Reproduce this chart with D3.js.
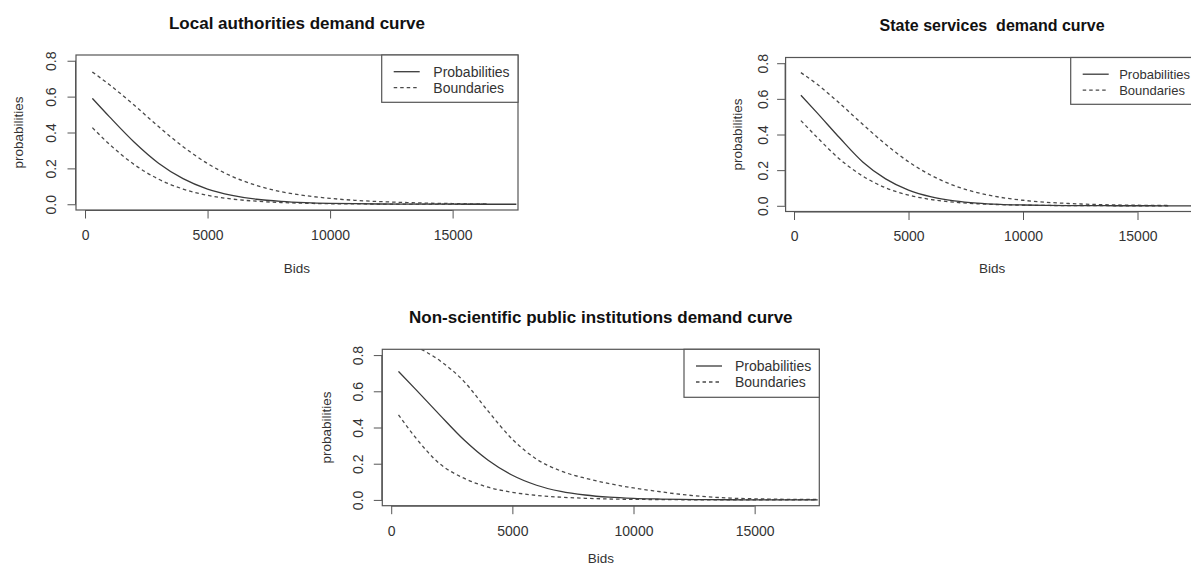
<!DOCTYPE html>
<html>
<head>
<meta charset="utf-8">
<script src="https://cdn.jsdelivr.net/npm/d3@7"></script>
<style>
  html, body { margin: 0; padding: 0; background: #fff; }
  svg { display: block; font-family: "Liberation Sans", Arial, sans-serif; }
</style>
</head>
<body>
<svg id="chart" width="1191" height="570"></svg>
<script>
// ---------------- data ----------------
const titles = ["Local authorities demand curve", "State services  demand curve", "Non-scientific public institutions demand curve"];
const xTicks = [0, 5000, 10000, 15000];
const yTicks = [0, 0.2, 0.4, 0.6, 0.8];
const legendLabels = ["Probabilities", "Boundaries"];
const xLabel = "Bids";
const yLabel = "probabilities";

const bids = [300, 1000, 2000, 3000, 4000, 5000, 6000, 7000, 8000, 9000, 10000, 11000, 12000, 13000, 14000, 15000, 16000, 16400, 17000, 17600];

const localProb  = [0.59, 0.487, 0.347, 0.229, 0.143, 0.085, 0.05, 0.028, 0.016, 0.009, 0.005, 0.003, 0.0015, 0.001, 0.0005, 0.0003, 0.0001, 0.0001, 0, 0];
const localUpper = [0.737, 0.666, 0.553, 0.433, 0.321, 0.227, 0.155, 0.105, 0.07, 0.048, 0.033, 0.022, 0.015, 0.01, 0.006, 0.004, 0.002, 0.002, null, null];
const localLower = [0.427, 0.334, 0.222, 0.14, 0.085, 0.05, 0.029, 0.017, 0.0097, 0.0055, 0.003, 0.002, 0.001, 0.0006, 0.0003, 0.0002, 0.0001, 0.0001, null, null];

const stateProb  = [0.62, 0.523, 0.38, 0.246, 0.151, 0.088, 0.05, 0.028, 0.015, 0.008, 0.0045, 0.0025, 0.0013, 0.0007, 0.0004, 0.0002, 0.0001, 0.0001, 0, 0];
const stateUpper = [0.747, 0.683, 0.574, 0.457, 0.345, 0.247, 0.17, 0.113, 0.074, 0.048, 0.031, 0.02, 0.013, 0.008, 0.005, 0.003, 0.002, 0.002, null, null];
const stateLower = [0.478, 0.385, 0.261, 0.167, 0.101, 0.06, 0.035, 0.02, 0.0115, 0.0065, 0.0037, 0.002, 0.0012, 0.0007, 0.0004, 0.0002, 0.0001, 0.0001, null, null];

const nonsciProb  = [0.71, 0.612, 0.47, 0.332, 0.219, 0.136, 0.081, 0.047, 0.027, 0.015, 0.0085, 0.005, 0.0027, 0.0015, 0.0008, 0.0005, 0.0003, 0.0002, 0.0001, 0.0001];
const nonsciUpper = [0.90, 0.85, 0.77, 0.655, 0.49, 0.335, 0.225, 0.16, 0.12, 0.09, 0.066, 0.047, 0.03, 0.018, 0.01, 0.006, 0.004, 0.003, 0.003, 0.002];
const nonsciLower = [0.47, 0.345, 0.2, 0.12, 0.07, 0.042, 0.025, 0.015, 0.009, 0.005, 0.003, 0.002, 0.001, 0.0006, 0.0003, 0.0002, 0.0001, 0.0001, 0, 0];

const xDomain = [-368, 17668];
const yDomain = [-0.032, 0.832];

// ---------------- layout ----------------
const panels = [
  { title: titles[0], prob: localProb, upper: localUpper, lower: localLower,
    left: 76, right: 518, top: 55, bottom: 210, titleY: 29, titleSize: 17,
    ylabX: -53, ytlX: -20.5, xtlY: 30, xlabY: 62.5, legLeft: 381.7, legBottom: 102.3, legText: 51.6, legSize: 14 },
  { title: titles[1], prob: stateProb, upper: stateUpper, lower: stateLower,
    left: 785.6, right: 1198.6, top: 57.5, bottom: 211.5, titleY: 30.5, titleSize: 16,
    ylabX: -44, ytlX: -18, xtlY: 29.5, xlabY: 61.5, legLeft: 1070.7, legBottom: 104.3, legText: 48.5, legSize: 13 },
  { title: titles[2], prob: nonsciProb, upper: nonsciUpper, lower: nonsciLower,
    left: 382.3, right: 819.3, top: 349.3, bottom: 505.7, titleY: 323, titleSize: 17,
    ylabX: -51, ytlX: -19.5, xtlY: 30, xlabY: 57, legLeft: 684, legBottom: 397.3, legText: 51, legSize: 14 }
];

const svg = d3.select("#chart");
svg.append("rect").attr("width", 1191).attr("height", 570).attr("fill", "#fff");

const lineColor = "#3a3a3a";
const dashColor = "#4a4a4a";
const axisColor = "#555";
const textColor = "#333";
const dash = "3.5,3";

panels.forEach((p, i) => {
  const x = d3.scaleLinear().domain(xDomain).range([p.left, p.right]);
  const y = d3.scaleLinear().domain(yDomain).range([p.bottom, p.top]);
  const g = svg.append("g");

  const clipId = "clip" + i;
  svg.append("clipPath").attr("id", clipId)
    .append("rect").attr("x", p.left).attr("y", p.top)
    .attr("width", p.right - p.left).attr("height", p.bottom - p.top);

  // title
  g.append("text")
    .attr("x", (p.left + p.right) / 2).attr("y", p.titleY)
    .attr("text-anchor", "middle")
    .attr("font-weight", "bold").attr("font-size", p.titleSize)
    .attr("fill", "#111")
    .style("white-space", "pre")
    .text(p.title);

  // x axis
  const xAxis = d3.axisBottom(x).tickValues(xTicks).tickSize(8.5).tickPadding(4).tickFormat(d3.format("d"));
  const xa = g.append("g").attr("transform", `translate(0,${p.bottom})`).call(xAxis);
  xa.select(".domain").attr("d", `M${x(xTicks[0])},0.5H${x(xTicks[xTicks.length - 1])}`).attr("stroke", axisColor);
  xa.selectAll(".tick line").attr("stroke", axisColor);
  xa.selectAll(".tick text").attr("font-size", 14).attr("fill", textColor)
    .attr("font-family", "Liberation Sans, Arial, sans-serif")
    .attr("dy", null).attr("y", p.xtlY);

  // y axis
  const yAxis = d3.axisLeft(y).tickValues(yTicks).tickSize(8.5).tickFormat(d3.format(".1f"));
  const ya = g.append("g").attr("transform", `translate(${p.left},0)`).call(yAxis);
  ya.select(".domain").attr("d", `M-0.5,${y(yTicks[0])}V${y(yTicks[yTicks.length - 1])}`).attr("stroke", axisColor);
  ya.selectAll(".tick line").attr("stroke", axisColor);
  ya.selectAll(".tick text")
    .attr("font-size", 14).attr("fill", textColor)
    .attr("font-family", "Liberation Sans, Arial, sans-serif")
    .attr("x", null).attr("dy", null)
    .attr("text-anchor", "middle")
    .attr("transform", `translate(${p.ytlX},0) rotate(-90)`);

  // axis labels
  g.append("text")
    .attr("x", (p.left + p.right) / 2).attr("y", p.bottom + p.xlabY)
    .attr("text-anchor", "middle").attr("font-size", 13.5).attr("fill", textColor)
    .text(xLabel);
  g.append("text")
    .attr("transform", `translate(${p.left + p.ylabX},${(p.top + p.bottom) / 2}) rotate(-90)`)
    .attr("text-anchor", "middle").attr("font-size", 13.5).attr("fill", textColor)
    .text(yLabel);

  // lines
  const pts = arr => bids.map((b, k) => [b, arr[k]]);
  const line = d3.line()
    .defined(d => d[1] !== null)
    .x(d => x(d[0])).y(d => y(d[1]))
    .curve(d3.curveMonotoneX);
  const lg = g.append("g").attr("clip-path", `url(#${clipId})`);
  lg.append("path").attr("d", line(pts(p.upper))).attr("fill", "none")
    .attr("stroke", dashColor).attr("stroke-width", 1.3).attr("stroke-dasharray", dash);
  lg.append("path").attr("d", line(pts(p.lower))).attr("fill", "none")
    .attr("stroke", dashColor).attr("stroke-width", 1.3).attr("stroke-dasharray", dash);
  lg.append("path").attr("d", line(pts(p.prob))).attr("fill", "none")
    .attr("stroke", lineColor).attr("stroke-width", 1.3);

  // plot box
  g.append("rect").attr("x", p.left).attr("y", p.top)
    .attr("width", p.right - p.left).attr("height", p.bottom - p.top)
    .attr("fill", "none").attr("stroke", axisColor).attr("stroke-width", 1.2);

  // legend
  const leg = g.append("g");
  leg.append("rect").attr("x", p.legLeft).attr("y", p.top)
    .attr("width", p.right - p.legLeft).attr("height", p.legBottom - p.top)
    .attr("fill", "#fff").attr("stroke", axisColor).attr("stroke-width", 1.2);
  legendLabels.forEach((lab, k) => {
    const ry = p.top + 16.7 + k * 16;
    leg.append("line")
      .attr("x1", p.legLeft + 12).attr("x2", p.legLeft + 38)
      .attr("y1", ry).attr("y2", ry)
      .attr("stroke", k === 0 ? lineColor : dashColor).attr("stroke-width", 1.3)
      .attr("stroke-dasharray", k === 0 ? null : dash);
    leg.append("text")
      .attr("x", p.legLeft + p.legText).attr("y", ry + 5)
      .attr("font-size", p.legSize).attr("fill", textColor)
      .text(lab);
  });
});
</script>
</body>
</html>
